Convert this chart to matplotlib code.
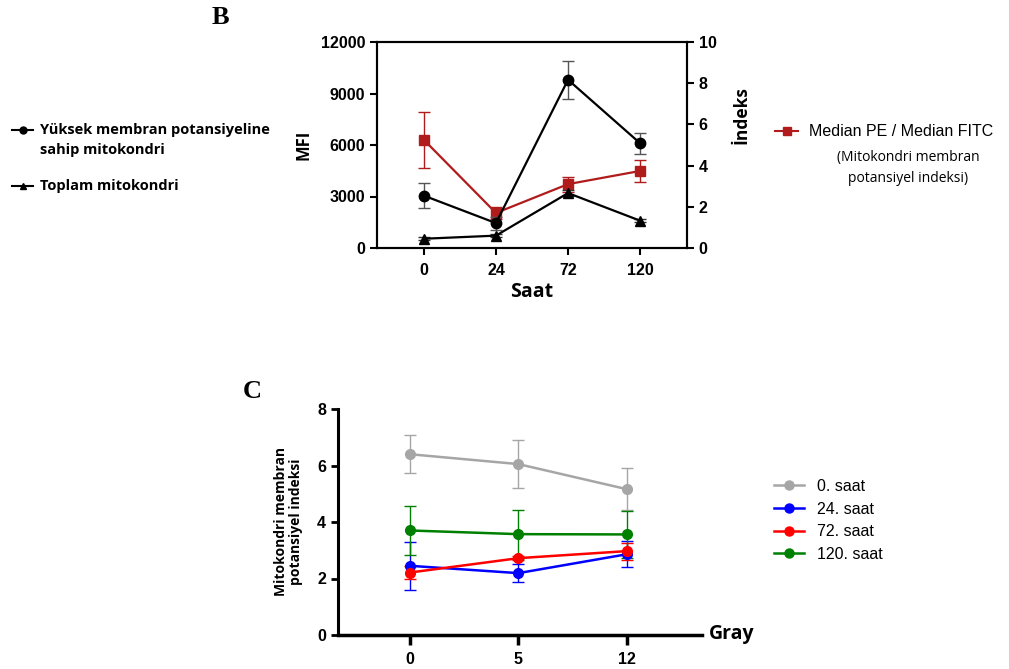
import numpy as np
import matplotlib
matplotlib.use("Agg")
import matplotlib.pyplot as plt
from matplotlib.lines import Line2D

# ---------------- data ----------------
hours = ["0", "24", "72", "120"]
mfi_high = [3050, 1450, 9800, 6100]
mfi_high_err = [740, 380, 1100, 600]
mfi_total = [540, 720, 3200, 1590]
mfi_total_err = [80, 90, 150, 100]
index_ratio = [5.25, 1.70, 3.10, 3.74]
index_ratio_err = [1.35, 0.30, 0.36, 0.54]

doses = ["0", "5", "12"]
saat0 = [6.40, 6.05, 5.16]
saat0_err = [0.67, 0.86, 0.74]
saat24 = [2.45, 2.19, 2.86]
saat24_err = [0.84, 0.31, 0.46]
saat72 = [2.21, 2.72, 2.97]
saat72_err = [0.22, 0.08, 0.30]
saat120 = [3.70, 3.57, 3.56]
saat120_err = [0.86, 0.87, 0.82]
c_labels = ["0. saat", "24. saat", "72. saat", "120. saat"]
c_colors = ["#a6a6a6", "#0000ff", "#ff0000", "#008000"]

W, H = 1009, 669
fig = plt.figure(figsize=(W / 100, H / 100), dpi=100)

def fx(px):
    return px / W

def fy(py):
    return 1 - py / H

SANS = ["Liberation Sans", "DejaVu Sans"]
OPEN = ["Open Sans", "DejaVu Sans"]
SERIF = ["Liberation Serif", "DejaVu Serif"]
DARKRED = "#b01c1c"

# ---------------- Panel B ----------------
axB = fig.add_axes([fx(377), fy(248), fx(687 - 377), (248 - 42) / H])
xB = np.arange(len(hours))
axB.errorbar(xB, mfi_total, yerr=mfi_total_err, color="black", marker="^",
             ms=7, lw=1.6, capsize=4, elinewidth=1.0, ecolor="#333333", zorder=3)
axB.errorbar(xB, mfi_high, yerr=mfi_high_err, color="black", marker="o",
             ms=7.5, lw=1.6, capsize=4, elinewidth=1.0, ecolor="#555555", zorder=3)
axB.set_xlim(-0.65, 3.65)
axB.set_ylim(0, 12000)
axB.set_yticks([0, 3000, 6000, 9000, 12000])
axB.set_xticks(xB)
axB.set_xticklabels(hours)
axB2 = axB.twinx()
axB2.errorbar(xB, index_ratio, yerr=index_ratio_err, color=DARKRED, marker="s",
              ms=7, lw=1.6, capsize=4, elinewidth=1.0, zorder=2)
axB2.set_ylim(0, 10)
axB2.set_yticks([0, 2, 4, 6, 8, 10])
axB.set_zorder(axB2.get_zorder() + 1)
axB.patch.set_visible(False)

for a in (axB, axB2):
    for s in a.spines.values():
        s.set_linewidth(1.5)
    a.tick_params(width=1.5, length=5, labelsize=11.5)
    for lab in a.get_xticklabels() + a.get_yticklabels():
        lab.set_fontweight("bold")
        lab.set_family(SANS)
axB.tick_params(axis="x", pad=6)

axB.set_ylabel("MFI", fontsize=12, fontweight="bold", family=OPEN, labelpad=6)
axB.set_xlabel("Saat", fontsize=14, fontweight="bold", family=OPEN, labelpad=3)
fig.text(fx(741), fy(115), "İndeks", rotation=90, fontsize=12.5, fontweight="bold",
         family=OPEN, ha="center", va="center")
fig.text(fx(220), fy(18), "B", fontsize=19, fontweight="bold", family=SERIF,
         ha="center", va="center")

# left legend (panel B)
fig.add_artist(Line2D([fx(12), fx(33)], [fy(130), fy(130)], color="black", lw=1.5))
fig.add_artist(Line2D([fx(22.5)], [fy(130)], color="black", marker="o", ms=5, lw=0))
fig.text(fx(40), fy(130), "Yüksek membran potansiyeline", fontsize=10.5,
         fontweight="bold", family=OPEN, va="center")
fig.text(fx(40), fy(150), "sahip mitokondri", fontsize=10.5,
         fontweight="bold", family=OPEN, va="center")
fig.add_artist(Line2D([fx(12), fx(33)], [fy(186), fy(186)], color="black", lw=1.5))
fig.add_artist(Line2D([fx(22.5)], [fy(186)], color="black", marker="^", ms=5, lw=0))
fig.text(fx(40), fy(186), "Toplam mitokondri", fontsize=10.5,
         fontweight="bold", family=OPEN, va="center")

# right legend (panel B)
fig.add_artist(Line2D([fx(775), fx(798)], [fy(131), fy(131)], color=DARKRED, lw=1.5))
fig.add_artist(Line2D([fx(786.5)], [fy(131)], color=DARKRED, marker="s", ms=6, lw=0))
fig.text(fx(809), fy(131), "Median PE / Median FITC", fontsize=11.5,
         family=SANS, va="center")
fig.text(fx(908), fy(158), "(Mitokondri membran", fontsize=10,
         family=OPEN, va="center", ha="center")
fig.text(fx(908), fy(179), "potansiyel indeksi)", fontsize=10,
         family=OPEN, va="center", ha="center")

# ---------------- Panel C ----------------
axC = fig.add_axes([fx(338), fy(635), fx(702 - 338), (635 - 409) / H])
xC = np.arange(len(doses))
series = [(saat0, saat0_err), (saat24, saat24_err), (saat72, saat72_err),
          (saat120, saat120_err)]
handles = []
for (vals, errs), col, lab in zip(series, c_colors, c_labels):
    axC.errorbar(xC, vals, yerr=errs, color=col, marker="o", ms=7, lw=1.8,
                 capsize=4, elinewidth=1.0)
    handles.append(Line2D([], [], color=col, marker="o", ms=6.5, lw=1.8))
axC.set_xlim(-0.66, 2.69)
axC.set_ylim(0, 8)
axC.set_yticks([0, 2, 4, 6, 8])
axC.set_xticks(xC)
axC.set_xticklabels(doses)
axC.spines["top"].set_visible(False)
axC.spines["right"].set_visible(False)
axC.spines["left"].set_linewidth(2.2)
axC.spines["bottom"].set_linewidth(2.5)
axC.tick_params(axis="y", width=2, length=5, labelsize=11.5)
axC.tick_params(axis="x", width=2.5, length=7, labelsize=11.5, pad=5)
for lab in axC.get_xticklabels() + axC.get_yticklabels():
    lab.set_fontweight("bold")
    lab.set_family(SANS)
axC.set_ylabel("Mitokondri membran\npotansiyel indeksi", fontsize=10,
               fontweight="bold", family=OPEN, labelpad=10, linespacing=1.15)
fig.text(fx(709), fy(634), "Gray", fontsize=14, fontweight="bold", family=OPEN,
         va="center", ha="left")
fig.text(fx(252), fy(392), "C", fontsize=19, fontweight="bold", family=SERIF,
         ha="center", va="center")

fig.legend(handles=handles, labels=c_labels, loc="upper left",
           bbox_to_anchor=(fx(774), fy(479)), frameon=False,
           prop={"family": SANS, "size": 11.5}, handlelength=1.9,
           handletextpad=0.8, labelspacing=0.48, borderaxespad=0,
           borderpad=0)

fig.savefig("out.png", dpi=100)
